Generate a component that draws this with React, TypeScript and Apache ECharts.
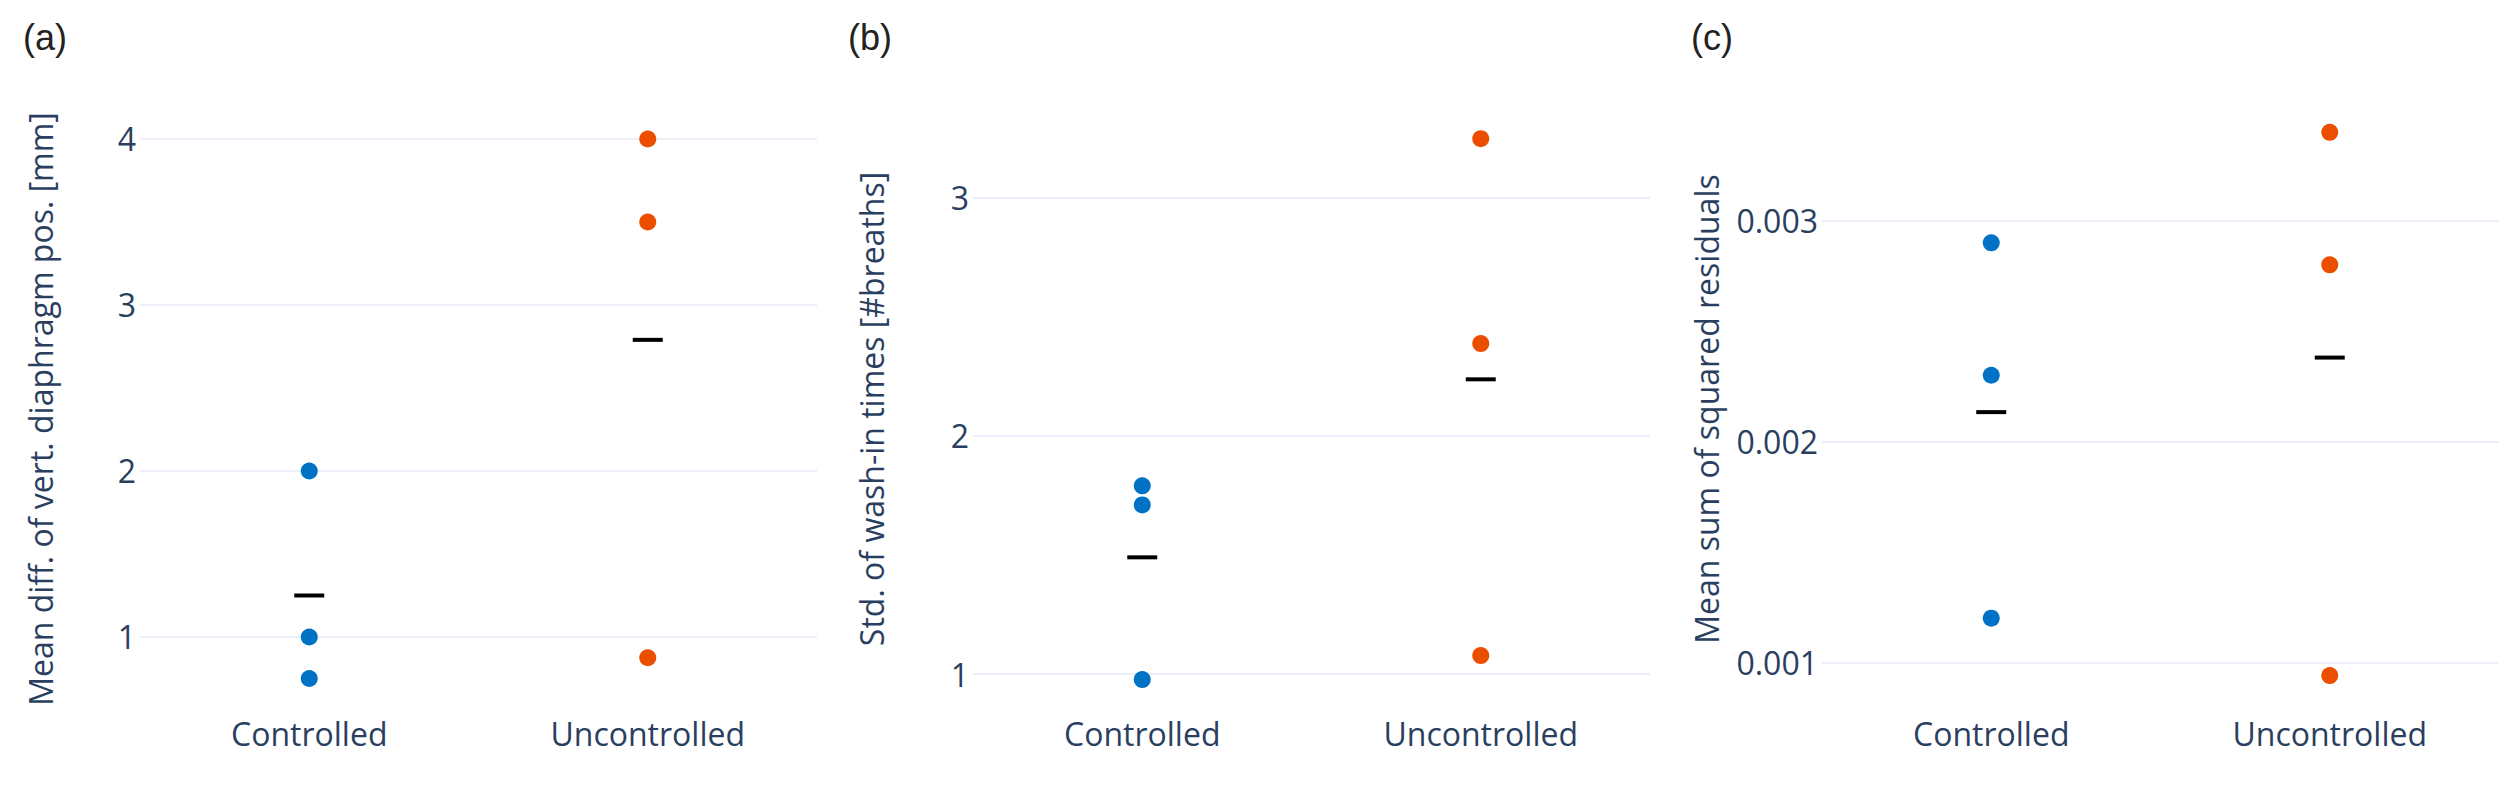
import React, { useEffect, useRef } from "react";
import * as echarts from "echarts";

// ---- data ----
const categories = ["Controlled", "Uncontrolled"];

const panelLabels = ["(a)", "(b)", "(c)"];
const axisTitles = [
  "Mean diff. of vert. diaphragm pos. [mm]",
  "Std. of wash-in times [#breaths]",
  "Mean sum of squared residuals",
];

const controlledA = [2.0, 1.0, 0.75];
const uncontrolledA = [4.0, 3.5, 0.875];
const meansA = [1.25, 2.79];

const controlledB = [1.79, 1.71, 0.977];
const uncontrolledB = [3.247, 2.387, 1.078];
const meansB = [1.49, 2.237];

const controlledC = [0.0029, 0.0023, 0.0012];
const uncontrolledC = [0.0034, 0.0028, 0.00094];
const meansC = [0.002133, 0.00238];

const ticksA = [1, 2, 3, 4];
const ticksB = [1, 2, 3];
const ticksC = [0.001, 0.002, 0.003];

const rangesMin = [0.512, 0.8158, 0.0007477];
const rangesMax = [4.2349, 3.4091, 0.0035466];

const BLUE = "#0072C6";
const ORANGE = "#EC4E00";
const TEXT = "#2a3f5f";
const GRID = "#EBF0F8";

export default function App() {
  const ref = useRef<HTMLDivElement>(null);

  useEffect(() => {
    document.body.style.margin = "0";
    if (!ref.current) return;
    const chart = echarts.init(ref.current, null, { renderer: "svg" });

    const gridLefts = [140, 973, 1822];
    const titleX = [40, 871, 1706];
    const labelX = [23, 848, 1691];
    const controlled = [controlledA, controlledB, controlledC];
    const uncontrolled = [uncontrolledA, uncontrolledB, uncontrolledC];
    const means = [meansA, meansB, meansC];
    const ticks = [ticksA, ticksB, ticksC];

    const grids = gridLefts.map((l) => ({ left: l, width: 677, top: 100, height: 618 }));
    const xAxes = gridLefts.map((_, i) => ({
      type: "category",
      gridIndex: i,
      data: categories,
      boundaryGap: true,
      axisLine: { show: false },
      axisTick: { show: false },
      splitLine: { show: false },
      axisLabel: {
        color: TEXT,
        fontSize: 32,
        fontFamily: "Open Sans",
        margin: -1,
        interval: 0,
      },
    }));
    const yAxes = gridLefts.map((_, i) => ({
      type: "value",
      gridIndex: i,
      min: rangesMin[i],
      max: rangesMax[i],
      axisLine: { show: false },
      axisTick: { show: false, customValues: ticks[i] },
      axisLabel: {
        color: TEXT,
        fontSize: 32,
        fontFamily: "Open Sans",
        margin: 4,
        customValues: ticks[i],
        showMinLabel: true,
        showMaxLabel: true,
      },
      splitLine: { show: true, lineStyle: { color: GRID, width: 2 } },
    }));

    const series: any[] = [];
    for (let i = 0; i < 3; i++) {
      series.push({
        type: "scatter",
        xAxisIndex: i,
        yAxisIndex: i,
        symbol: "circle",
        symbolSize: 17,
        itemStyle: { color: BLUE, opacity: 1 },
        data: controlled[i].map((v) => [categories[0], v]),
        silent: true,
      });
      series.push({
        type: "scatter",
        xAxisIndex: i,
        yAxisIndex: i,
        symbol: "circle",
        symbolSize: 17,
        itemStyle: { color: ORANGE, opacity: 1 },
        data: uncontrolled[i].map((v) => [categories[1], v]),
        silent: true,
      });
      series.push({
        type: "scatter",
        xAxisIndex: i,
        yAxisIndex: i,
        symbol: "rect",
        symbolSize: [30, 4],
        itemStyle: { color: "#000000", opacity: 1 },
        data: means[i].map((v, j) => [categories[j], v]),
        silent: true,
      });
    }

    const graphics: any[] = [];
    for (let i = 0; i < 3; i++) {
      graphics.push({
        type: "text",
        left: labelX[i],
        top: 19,
        style: {
          text: panelLabels[i],
          fontSize: 36,
          fontFamily: "Liberation Sans, Arial, sans-serif",
          fill: "#222222",
        },
        silent: true,
      });
      graphics.push({
        type: "text",
        x: titleX[i],
        y: 409,
        rotation: Math.PI / 2,
        style: {
          text: axisTitles[i],
          fontSize: 32,
          fontFamily: "Open Sans",
          fill: TEXT,
          align: "center",
          verticalAlign: "middle",
        },
        silent: true,
      });
    }

    chart.setOption({
      animation: false,
      backgroundColor: "#ffffff",
      grid: grids,
      xAxis: xAxes,
      yAxis: yAxes,
      series,
      graphic: graphics,
    });

    return () => chart.dispose();
  }, []);

  return (
    <div
      ref={ref}
      style={{ position: "absolute", left: 0, top: 0, width: 2510, height: 793 }}
    />
  );
}
